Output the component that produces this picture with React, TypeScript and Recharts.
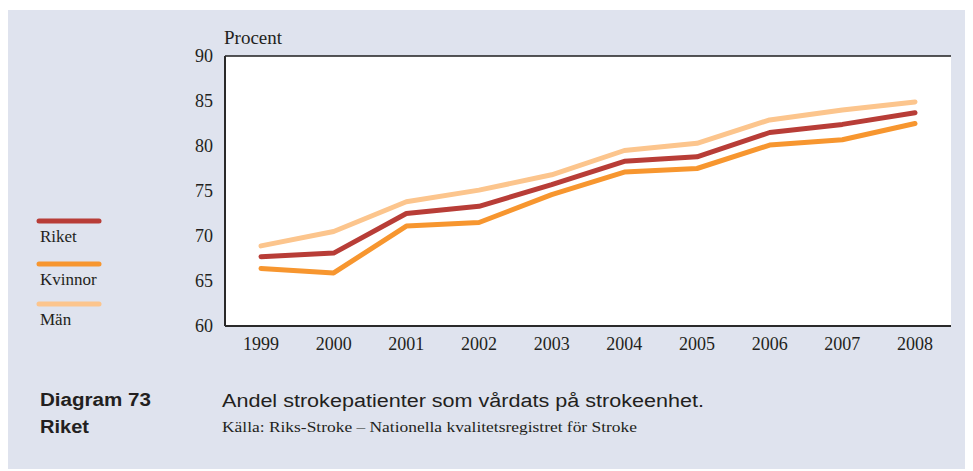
import React from 'react';
import { LineChart, Line, XAxis, YAxis, CartesianGrid } from 'recharts';

const years = ['1999', '2000', '2001', '2002', '2003', '2004', '2005', '2006', '2007', '2008'];
const riket = [67.7, 68.1, 72.5, 73.3, 75.7, 78.3, 78.8, 81.5, 82.4, 83.7];
const kvinnor = [66.4, 65.9, 71.1, 71.5, 74.6, 77.1, 77.5, 80.1, 80.7, 82.5];
const man = [68.9, 70.5, 73.8, 75.1, 76.8, 79.5, 80.3, 82.9, 84.0, 84.9];
const yTicks = [60, 65, 70, 75, 80, 85, 90];

const seriesKeys = ['man', 'kvinnor', 'riket'];
const legendNames = ['Riket', 'Kvinnor', 'Män'];
const legendColors = ['#b83d37', '#f7962f', '#fcc58d'];
const colorByKey: Record<string, string> = { riket: '#b83d37', kvinnor: '#f7962f', man: '#fcc58d' };

const data = years.map((y, i) => ({ year: y, riket: riket[i], kvinnor: kvinnor[i], man: man[i] }));

const SERIF = '"Liberation Serif", "Times New Roman", serif';
const SANS = '"Liberation Sans", Arial, sans-serif';
const TEXT = '#231f20';

export default function App() {
  return (
    <div style={{ position: 'relative', top: 2, width: 965, height: 461, background: '#dfe3ee' }}>
      <LineChart
        width={965}
        height={461}
        data={data}
        margin={{ top: 46, right: 22, bottom: 115, left: 157 }}
      >
        <CartesianGrid vertical={false} stroke="#1e1e1e" strokeWidth={1.3} fill="#ffffff" strokeOpacity={1} />
        <XAxis
          dataKey="year"
          padding={{ left: 36, right: 36 }}
          axisLine={{ stroke: '#2a2a2a', strokeWidth: 2 }}
          tickLine={false}
          tickSize={0}
          tickMargin={11}
          interval={0}
          tick={{ fill: TEXT, fontFamily: SERIF, fontSize: 18 }}
          height={30}
        />
        <YAxis
          yAxisId="left"
          domain={[60, 90]}
          ticks={yTicks}
          width={60}
          axisLine={{ stroke: '#2a2a2a', strokeWidth: 2 }}
          tickLine={false}
          tickSize={0}
          tickMargin={12}
          interval={0}
          tick={{ fill: TEXT, fontFamily: SERIF, fontSize: 18 }}
        />
        <YAxis
          yAxisId="right"
          orientation="right"
          domain={[60, 90]}
          width={0}
          tick={false}
          tickLine={false}
          axisLine={{ stroke: '#8c8c8c', strokeWidth: 2 }}
        />
        {seriesKeys.map((k) => (
          <Line
            key={k}
            yAxisId="left"
            type="linear"
            dataKey={k}
            stroke={colorByKey[k]}
            strokeWidth={5}
            strokeLinecap="round"
            strokeLinejoin="round"
            dot={false}
            activeDot={false}
            isAnimationActive={false}
          />
        ))}
      </LineChart>
      <svg
        width={965}
        height={461}
        style={{ position: 'absolute', left: 0, top: 0, pointerEvents: 'none' }}
      >
        <text x={216} y={34} fontFamily={SERIF} fontSize={19} fill={TEXT}>Procent</text>
        {legendNames.map((name, i) => {
          const lineY = [211, 254, 294][i];
          const textY = [232, 275, 315][i];
          return (
            <g key={name}>
              <line x1={31} x2={91} y1={lineY} y2={lineY} stroke={legendColors[i]} strokeWidth={5} strokeLinecap="round" />
              <text x={32} y={textY} fontFamily={SERIF} fontSize={17} fill={TEXT}>{name}</text>
            </g>
          );
        })}
        <text x={32} y={396} fontFamily={SANS} fontWeight="bold" fontSize={18} fill={TEXT} textLength={111} lengthAdjust="spacingAndGlyphs">Diagram 73</text>
        <text x={32} y={423} fontFamily={SANS} fontWeight="bold" fontSize={18} fill={TEXT} textLength={49} lengthAdjust="spacingAndGlyphs">Riket</text>
        <text x={214} y={397} fontFamily={SANS} fontSize={18} fill={TEXT} textLength={482} lengthAdjust="spacingAndGlyphs">Andel strokepatienter som vårdats på strokeenhet.</text>
        <text x={214} y={422} fontFamily={SERIF} fontSize={15} fill={TEXT} textLength={415} lengthAdjust="spacingAndGlyphs">Källa: Riks-Stroke – Nationella kvalitetsregistret för Stroke</text>
      </svg>
    </div>
  );
}
